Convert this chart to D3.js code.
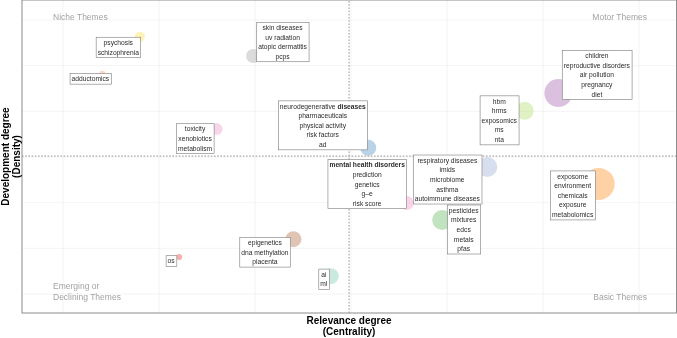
<!DOCTYPE html>
<html>
<head>
<meta charset="utf-8">
<script src="https://cdn.jsdelivr.net/npm/d3@7"></script>
<style>
  body { margin: 0; background: #fff; }
  svg { font-family: "Liberation Sans", Arial, sans-serif; display: block; will-change: transform; }
</style>
</head>
<body>
<div id="map"></div>
<script>
var width = 677;
var height = 338;

// cluster data (centrality, density, frequency)
var clusterWords = [
    ["psychosis", "schizophrenia"],
    ["adductomics"],
    ["toxicity", "xenobiotics", "metabolism"],
    ["skin diseases", "uv radiation", "atopic dermatitis", "pcps"],
    ["neurodegenerative diseases", "pharmaceuticals", "physical activity", "risk factors", "ad"],
    ["children", "reproductive disorders", "air pollution", "pregnancy", "diet"],
    ["hbm", "hrms", "exposomics", "ms", "nta"],
    ["respiratory diseases", "imids", "microbiome", "asthma", "autoimmune diseases"],
    ["exposome", "environment", "chemicals", "exposure", "metabolomics"],
    ["mental health disorders", "prediction", "genetics", "g\u2013e", "risk score"],
    ["pesticides", "mixtures", "edcs", "metals", "pfas"],
    ["epigenetics", "dna methylation", "placenta"],
    ["ai", "ml"],
    ["os"]
];
var centrality = [1.80, 1.41, 2.60, 2.98, 4.18, 6.16, 5.81, 5.42, 6.58, 4.58, 4.95, 3.40, 3.79, 2.21];
var density    = [6.63, 5.82, 4.61, 6.21, 4.20, 5.40, 5.01, 3.78, 3.41, 2.99, 2.62, 2.20, 1.39, 1.81];
var freq       = [25, 9, 36, 49, 64, 196, 81, 100, 256, 49, 100, 64, 64, 9];
var clusterColors = ["#FFD92F", "#FC8D62", "#E78AC3", "#999999", "#377EB8", "#984EA3", "#A6D854",
                     "#8DA0CB", "#FF7F00", "#F781BF", "#4DAF4A", "#A65628", "#66C2A5", "#E41A1C"];
var quadrantLabels = ["Niche Themes", "Motor Themes", "Emerging or|Declining Themes", "Basic Themes"];

// label placement (pixel nudges from bubble centre, like ggrepel)
var labelNudge = [[-21.5, 10.5], [-12, 5], [-21.5, 9.5], [29.5, -14], [-45.5, -22.5], [38.5, -18],
                  [-25.5, 9.5], [-40, 12.5], [-26, 11.5], [-39.5, -19], [21.5, 9.5], [-28.5, 13],
                  [-7, 3], [-8, 4]];

var xMedian = 3.98;
var yMedian = 4.02;

var clusters = clusterWords.map(function(w, i) {
    return {words: w, x: centrality[i], y: density[i], freq: freq[i], color: clusterColors[i], nudge: labelNudge[i]};
});

var margin = {left: 22, right: 0, top: 0, bottom: 25};

var svg = d3.select('#map').append('svg')
    .attr("width", width)
    .attr("height", height);

var x = d3.scaleLinear().domain([0.573, 7.396]).range([margin.left, width - margin.right]);
var y = d3.scaleLinear().domain([0.584, 7.437]).range([height - margin.bottom, margin.top]);
var r = d3.scaleSqrt().domain([0, 256]).range([0, 16]);

// grid
svg.append("g")
    .selectAll("line")
    .data(d3.range(1, 8))
    .enter().append("line")
    .attr("x1", function(d) { return x(d); })
    .attr("x2", function(d) { return x(d); })
    .attr("y1", y.range()[0])
    .attr("y2", y.range()[1])
    .attr("stroke", "#ececec")
    .attr("stroke-width", 0.6);

svg.append("g")
    .selectAll("line")
    .data(d3.range(1, 8))
    .enter().append("line")
    .attr("y1", function(d) { return y(d); })
    .attr("y2", function(d) { return y(d); })
    .attr("x1", x.range()[0])
    .attr("x2", x.range()[1])
    .attr("stroke", "#ececec")
    .attr("stroke-width", 0.6);

// median lines
svg.append("line")
    .attr("x1", x(xMedian)).attr("x2", x(xMedian))
    .attr("y1", y.range()[0]).attr("y2", y.range()[1])
    .attr("stroke", "#6e6e6e").attr("stroke-width", 0.7)
    .attr("stroke-dasharray", "1.6,1.6");
svg.append("line")
    .attr("y1", y(yMedian)).attr("y2", y(yMedian))
    .attr("x1", x.range()[0]).attr("x2", x.range()[1])
    .attr("stroke", "#6e6e6e").attr("stroke-width", 0.7)
    .attr("stroke-dasharray", "1.6,1.6");

// quadrant names
var qg = svg.append("g")
    .attr("font-size", "8.5px")
    .attr("fill", "#a3a3a3");
qg.append("text").attr("x", 53).attr("y", 20).text(quadrantLabels[0]);
qg.append("text").attr("x", 647).attr("y", 20).attr("text-anchor", "end").text(quadrantLabels[1]);
qg.append("text").attr("x", 53).attr("y", 289)
    .selectAll("tspan")
    .data(quadrantLabels[2].split("|"))
    .enter().append("tspan")
    .attr("x", 53)
    .attr("dy", function(d, i) { return i ? 11 : 0; })
    .text(function(d) { return d; });
qg.append("text").attr("x", 647).attr("y", 300).attr("text-anchor", "end").text(quadrantLabels[3]);

// bubbles
svg.append("g")
    .selectAll("circle")
    .data(clusters)
    .enter().append("circle")
    .attr("cx", function(d) { return x(d.x); })
    .attr("cy", function(d) { return y(d.y); })
    .attr("r", function(d) { return r(d.freq); })
    .attr("fill", function(d) { return d.color; })
    .attr("fill-opacity", 0.35);

// labels
var lineH = 9.6;
var labels = svg.append("g")
    .selectAll("g")
    .data(clusters)
    .enter().append("g")
    .attr("transform", function(d) {
        return "translate(" + (x(d.x) + d.nudge[0]) + "," + (y(d.y) + d.nudge[1]) + ")";
    });

labels.each(function(d) {
    var g = d3.select(this);
    var rect = g.append("rect")
        .attr("fill", "#fff")
        .attr("stroke", "#7a7a7a")
        .attr("stroke-width", 0.6);
    var n = d.words.length;
    var t = g.append("text")
        .attr("font-size", "6.7px")
        .attr("fill", "#2a2a2a")
        .attr("text-anchor", "middle");
    d.words.forEach(function(w, i) {
        var ts = t.append("tspan")
            .attr("x", 0)
            .attr("y", (i - (n - 1) / 2) * lineH + 2.4);
        if (w === "mental health disorders") {
            ts.attr("font-weight", "bold").text(w);
        } else if (w === "neurodegenerative diseases") {
            ts.text("neurodegenerative ");
            t.append("tspan").attr("font-weight", "bold").text("diseases");
        } else {
            ts.text(w);
        }
    });
    var bb = t.node().getBBox();
    rect.attr("x", bb.x - 1.5)
        .attr("y", -n * lineH / 2 - 0.5)
        .attr("width", bb.width + 3)
        .attr("height", n * lineH + 1);
});

// panel border
svg.append("rect")
    .attr("x", x.range()[0])
    .attr("y", y.range()[1])
    .attr("width", x.range()[1] - x.range()[0] - 0.5)
    .attr("height", y.range()[0] - y.range()[1])
    .attr("fill", "none")
    .attr("stroke", "#8c8c8c")
    .attr("stroke-width", 1);

// axis titles
var xt = svg.append("text")
    .attr("text-anchor", "middle")
    .attr("font-size", "10px")
    .attr("font-weight", "bold")
    .attr("fill", "#000");
xt.append("tspan").attr("x", x(xMedian)).attr("y", 324).text("Relevance degree");
xt.append("tspan").attr("x", x(xMedian)).attr("y", 334.5).text("(Centrality)");

var cy = (y.range()[0] + y.range()[1]) / 2;
var yt = svg.append("text")
    .attr("text-anchor", "middle")
    .attr("font-size", "10px")
    .attr("font-weight", "bold")
    .attr("fill", "#000")
    .attr("transform", "rotate(-90)");
yt.append("tspan").attr("x", -cy).attr("y", 9).text("Development degree");
yt.append("tspan").attr("x", -cy).attr("y", 19.5).text("(Density)");
</script>
</body>
</html>
